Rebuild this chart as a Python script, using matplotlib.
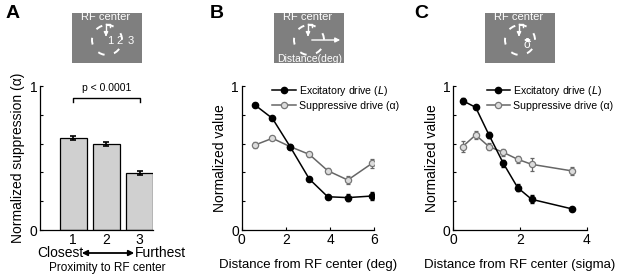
import matplotlib
matplotlib.use("Agg")
import matplotlib.pyplot as plt
from matplotlib.patches import Circle, FancyArrowPatch
from matplotlib.lines import Line2D
import numpy as np

plt.rcParams['font.family'] = ['Liberation Sans', 'DejaVu Sans']

# ---- data ----
prox_pos = [1, 2, 3]
prox_labels = ['1', '2', '3']
prox_vals = [0.637, 0.595, 0.398]
prox_err = [0.014, 0.014, 0.014]

b_x = [0.6, 1.39, 2.19, 3.06, 3.89, 4.8, 5.9]
b_exc = [0.868, 0.775, 0.579, 0.354, 0.231, 0.225, 0.236]
b_exc_err = [0.012, 0.01, 0.012, 0.012, 0.015, 0.022, 0.025]
b_sup = [0.59, 0.637, 0.579, 0.525, 0.412, 0.347, 0.463]
b_sup_err = [0.022, 0.015, 0.015, 0.015, 0.022, 0.03, 0.032]

c_x = [0.28, 0.67, 1.07, 1.5, 1.93, 2.35, 3.57]
c_exc = [0.898, 0.852, 0.66, 0.463, 0.294, 0.213, 0.146]
c_exc_err = [0.022, 0.012, 0.02, 0.025, 0.022, 0.028, 0.01]
c_sup = [0.579, 0.66, 0.579, 0.539, 0.491, 0.456, 0.41]
c_sup_err = [0.04, 0.025, 0.022, 0.025, 0.025, 0.045, 0.025]

W, H = 617, 278
fig = plt.figure(figsize=(W / 100, H / 100), dpi=100)


def fr(l, t, r, b):
    return [l / W, 1 - b / H, (r - l) / W, (b - t) / H]


def style(ax):
    for s in ['top', 'right']:
        ax.spines[s].set_visible(False)
    for s in ['left', 'bottom']:
        ax.spines[s].set_linewidth(0.9)
    ax.tick_params(direction='in', length=2.5, width=0.8, labelsize=10, pad=2)


# ---- Panel A ----
axA = fig.add_axes(fr(40, 86, 153, 230))
style(axA)
axA.bar(prox_pos, prox_vals, width=0.8, color='#d0d0d0', edgecolor='black', linewidth=0.9)
axA.errorbar(prox_pos, prox_vals, yerr=prox_err, fmt='none', ecolor='black',
             elinewidth=1.2, capsize=2.5, capthick=1.2)
axA.set_xlim(0, 3.4)
axA.set_ylim(0, 1)
axA.set_yticks([0, 0.2, 0.4, 0.6, 0.8, 1.0])
axA.set_yticklabels(['0', '', '', '', '', '1'])
axA.set_xticks(prox_pos)
axA.set_xticklabels(prox_labels)
axA.tick_params(axis='x', length=0)
axA.set_ylabel('Normalized suppression (α)', fontsize=10, labelpad=3)
axA.plot([1, 1, 3, 3], [0.89, 0.92, 0.92, 0.89], color='black', lw=1.0)
axA.text(2, 0.95, 'p < 0.0001', ha='center', va='bottom', fontsize=7.5)
fig.text(60 / W, 1 - 253 / H, 'Closest', ha='center', va='center', fontsize=10)
fig.text(160 / W, 1 - 253 / H, 'Furthest', ha='center', va='center', fontsize=10)
fig.add_artist(FancyArrowPatch((79 / W, 1 - 253 / H), (137 / W, 1 - 253 / H),
                               transform=fig.transFigure, arrowstyle='<|-|>',
                               mutation_scale=8, color='black', lw=1.3))
fig.text(107 / W, 1 - 268 / H, 'Proximity to RF center', ha='center', va='center', fontsize=8.5)


def line_panel(rect, x, exc, exc_err, sup, sup_err, xlim, xticks, xlabel, leg_x):
    ax = fig.add_axes(rect)
    style(ax)
    sup_kw = dict(color='#666666', lw=1.1, marker='o', ms=4.5,
                  mfc='#dcdcdc', mec='#777777', mew=0.9)
    exc_kw = dict(color='black', lw=1.1, marker='o', ms=4.5, mfc='black', mec='black')
    ax.errorbar(x, sup, yerr=sup_err, ecolor='#666666', elinewidth=0.9,
                capsize=1.5, zorder=2, **sup_kw)
    ax.errorbar(x, exc, yerr=exc_err, ecolor='black', elinewidth=0.9,
                capsize=1.5, zorder=3, **exc_kw)
    ax.set_xlim(*xlim)
    ax.set_ylim(0, 1)
    ax.set_xticks(xticks)
    ax.set_yticks([0, 0.2, 0.4, 0.6, 0.8, 1.0])
    ax.set_yticklabels(['0', '', '', '', '', '1'])
    ax.set_ylabel('Normalized value', fontsize=10, labelpad=3)
    ax.set_xlabel(xlabel, fontsize=9.5, labelpad=9)
    handles = [Line2D([], [], **exc_kw), Line2D([], [], **sup_kw)]
    labels = ['Excitatory drive ($\\it{L}$)', 'Suppressive drive (α)']
    ax.legend(handles, labels, loc='upper left', bbox_to_anchor=(leg_x, 1.045),
              frameon=False, fontsize=7.6, handlelength=2.2, handletextpad=0.3,
              labelspacing=0.3, borderaxespad=0)
    return ax


line_panel(fr(241.7, 86, 374.3, 230), b_x, b_exc, b_exc_err, b_sup, b_sup_err,
           (0, 6), [0, 2, 4, 6], 'Distance from RF center (deg)', 0.2)
line_panel(fr(453.3, 86, 586.7, 230), c_x, c_exc, c_exc_err, c_sup, c_sup_err,
           (0, 4), [0, 2, 4], 'Distance from RF center (sigma)', 0.22)

# ---- panel letters ----
for x, lab in [(6, 'A'), (210, 'B'), (414, 'C')]:
    fig.text(x / W, 1 - 14 / H, lab, fontsize=14, fontweight='bold', va='center', ha='left')


# ---- insets ----
def inset(l, t, kind):
    ax = fig.add_axes(fr(l, t, l + 70, t + 50))
    ax.set_facecolor('#7f7f7f')
    ax.set_xlim(0, 70)
    ax.set_ylim(50, 0)
    ax.set_xticks([])
    ax.set_yticks([])
    for s in ax.spines.values():
        s.set_visible(False)
    ax.text(34, 4.5, 'RF center', color='white', fontsize=8, ha='center', va='center')
    ax.add_patch(Circle((35, 27), 15, fill=False, ec='white', lw=1.4,
                        ls=(0, (3.5, 5))))
    ax.plot([34, 34], [10.5, 20], color='white', lw=1.0)
    ax.annotate('', xy=(34, 23.5), xytext=(34, 18),
                arrowprops=dict(arrowstyle='-|>', color='white', lw=1.0, mutation_scale=6))
    ax.plot([34, 38, 38], [10.5, 10.5, 13.5], color='white', lw=1.0)
    if kind == 'A':
        for xx, s in [(38, '1'), (48, '2'), (59, '3')]:
            ax.text(xx, 27.5, s, color='white', fontsize=8, ha='center', va='center')
    elif kind == 'B':
        ax.annotate('', xy=(69, 27), xytext=(35, 27),
                    arrowprops=dict(arrowstyle='-|>', color='white', lw=1.0, mutation_scale=7))
        ax.text(36, 45.5, 'Distance(deg)', color='white', fontsize=7.5, ha='center',
                va='center', clip_on=False)
    else:
        ax.annotate('', xy=(49, 27), xytext=(36, 27),
                    arrowprops=dict(arrowstyle='<|-|>', color='white', lw=1.0, mutation_scale=5))
        ax.text(42, 32.5, 'σ', color='white', fontsize=8.5, ha='center', va='center')


inset(72, 13, 'A')
inset(274, 13, 'B')
inset(485, 13, 'C')

fig.savefig('out.png', dpi=100)
